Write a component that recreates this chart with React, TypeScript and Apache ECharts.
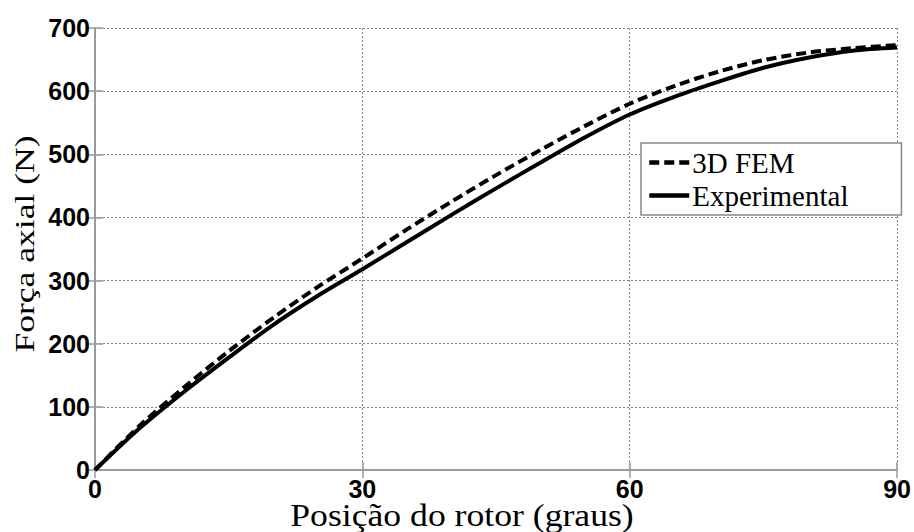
import React, { useEffect, useRef } from "react";
import * as echarts from "echarts";

const positions = [0, 5, 10, 15, 20, 25, 30, 35, 40, 45, 50, 55, 60, 65, 70, 75, 80, 85, 90];
const fem3d = [0, 70, 131, 188, 241, 290, 335, 381, 425, 467, 507, 545, 580, 608, 631, 649, 661, 668, 673];
const experimental = [0, 66, 124, 178, 230, 276, 318, 361, 404, 446, 487, 527, 563, 591, 615, 637, 653, 664, 669];
const xTicks = { min: 0, max: 90, interval: 30 };
const yTicks = { min: 0, max: 700, interval: 100 };
const seriesNames = ["3D FEM", "Experimental"];
const xTitle = "Posição do rotor (graus)";
const yTitle = "Força axial (N)";

export default function App() {
  const ref = useRef<HTMLDivElement>(null);
  useEffect(() => {
    document.body.style.margin = "0";
    const chart = echarts.init(ref.current!, null, { renderer: "svg" });
    const tickLabel = {
      color: "#000",
      fontFamily: "Liberation Sans, Arial, sans-serif",
      fontWeight: "bold" as const,
      fontSize: 25,
    };
    const grey = "#9a9a9a";
    chart.setOption({
      animation: false,
      backgroundColor: "#fff",
      grid: { left: 95, right: 16, top: 28, bottom: 62, show: false },
      legend: {
        orient: "vertical",
        left: 641,
        top: 143,
        padding: [5, 53, 5, 6],
        itemGap: 4,
        itemWidth: 40,
        itemHeight: 14,
        backgroundColor: "#fff",
        borderColor: "#888",
        borderWidth: 1.5,
        borderRadius: 0,
        itemStyle: { opacity: 0 },
        lineStyle: { width: 4.5 },
        textStyle: {
          color: "#000",
          fontFamily: "Liberation Serif, Times New Roman, serif",
          fontSize: 29,
          padding: [0, 0, 0, -2],
        },
        data: seriesNames,
      },
      xAxis: [
        {
          type: "value",
          ...xTicks,
          axisLine: { show: true, onZero: false, lineStyle: { color: grey, width: 2 } },
          axisTick: { show: true, inside: true, length: 8, lineStyle: { color: grey, width: 1.5 } },
          axisLabel: { ...tickLabel, margin: 6 },
          splitLine: { show: true, lineStyle: { color: "#888", type: [2, 2], width: 1 } },
        },
        {
          type: "value",
          position: "top",
          ...xTicks,
          axisLine: { show: true, lineStyle: { color: grey, width: 2 } },
          axisTick: { show: true, inside: true, length: 8, lineStyle: { color: grey, width: 1.5 } },
          axisLabel: { show: false },
          splitLine: { show: false },
        },
      ],
      yAxis: [
        {
          type: "value",
          ...yTicks,
          axisLine: { show: true, onZero: false, lineStyle: { color: grey, width: 2 } },
          axisTick: { show: true, inside: true, length: 8, lineStyle: { color: grey, width: 1.5 } },
          axisLabel: { ...tickLabel, margin: 5 },
          splitLine: { show: true, lineStyle: { color: "#888", type: [2, 2], width: 1 } },
        },
        {
          type: "value",
          position: "right",
          ...yTicks,
          axisLine: { show: true, lineStyle: { color: grey, width: 2 } },
          axisTick: { show: true, inside: true, length: 8, lineStyle: { color: grey, width: 1.5 } },
          axisLabel: { show: false },
          splitLine: { show: false },
        },
      ],
      series: [
        {
          name: seriesNames[0],
          type: "line",
          smooth: 0.3,
          showSymbol: false,
          symbol: "none",
          z: 3,
          color: "#000",
          lineStyle: { color: "#000", width: 4, type: [10, 5] },
          data: positions.map((p, i) => [p, fem3d[i]]),
        },
        {
          name: seriesNames[1],
          type: "line",
          smooth: 0.3,
          showSymbol: false,
          symbol: "none",
          z: 4,
          color: "#000",
          lineStyle: { color: "#000", width: 4 },
          data: positions.map((p, i) => [p, experimental[i]]),
        },
      ],
      graphic: [
        {
          type: "text",
          x: 462,
          y: 500,
          scaleX: 1.15,
          style: {
            text: xTitle,
            x: 0,
            y: 0,
            fill: "#000",
            font: "31px 'Liberation Serif', 'Times New Roman', serif",
            align: "center",
            verticalAlign: "top",
          },
        },
        {
          type: "text",
          x: 10,
          y: 244,
          rotation: Math.PI / 2,
          scaleX: 1.27,
          style: {
            text: yTitle,
            x: 0,
            y: 0,
            fill: "#000",
            font: "28px 'Liberation Serif', 'Times New Roman', serif",
            align: "center",
            verticalAlign: "top",
          },
        },
      ],
    });
    return () => chart.dispose();
  }, []);
  return (
    <div
      ref={ref}
      style={{ position: "absolute", left: 0, top: 0, width: 914, height: 532 }}
    />
  );
}
